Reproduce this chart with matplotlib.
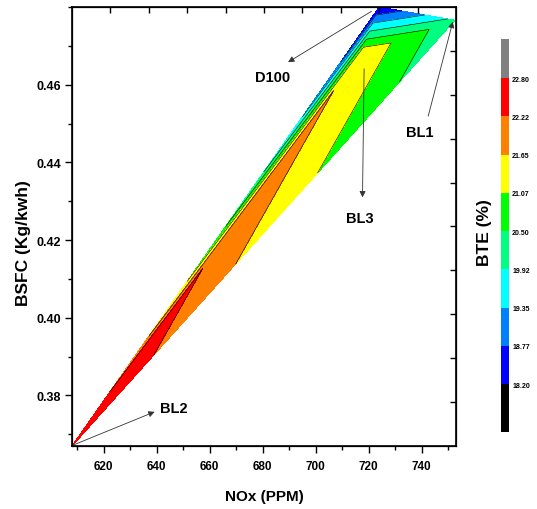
import matplotlib
matplotlib.use('Agg')
import matplotlib.pyplot as plt
import matplotlib.tri as mtri
from matplotlib.colors import ListedColormap, BoundaryNorm
from matplotlib.colorbar import ColorbarBase
from matplotlib.ticker import MultipleLocator

plt.rcParams['font.family'] = ['Liberation Sans', 'DejaVu Sans']
plt.rcParams['font.weight'] = 'bold'

# Blend data: NOx, BSFC and BTE for each fuel
blends = ['BL2', 'BL3', 'D100', 'BL1']
nox = [608.0, 717.1, 724.0, 752.6]
bsfc = [0.367, 0.468, 0.480, 0.4766]
bte = [22.80, 21.53, 18.20, 20.11]

# Contour levels and colours (low -> high, first/last are the under/over colours)
levels = [18.20, 18.775, 19.35, 19.925, 20.50, 21.075, 21.65, 22.225, 22.80]
level_labels = ['18.20', '18.77', '19.35', '19.92', '20.50',
                '21.07', '21.65', '22.22', '22.80']
band_colors = ['#000000', '#0000FF', '#0080FF', '#00FFFF', '#00FF80',
               '#00FF00', '#FFFF00', '#FF8000', '#FF0000', '#808080']

fig = plt.figure(figsize=(5.37, 5.10), dpi=100)
ax = fig.add_axes([72 / 537, 1 - 447 / 510, 384 / 537, 439 / 510])

# Filled contour on the triangulated points
tri = mtri.Triangulation(nox, bsfc)
ax.tricontourf(tri, bte, levels=levels, colors=band_colors[1:-1])
ax.tricontour(tri, bte, levels=levels[1:-1], colors='k', linewidths=0.4)

ax.set_xlim(608, 753)
ax.set_ylim(0.367, 0.48)
ax.set_xticks(range(620, 741, 20))
ax.set_yticks([0.38, 0.40, 0.42, 0.44, 0.46])
ax.xaxis.set_minor_locator(MultipleLocator(10))
ax.yaxis.set_minor_locator(MultipleLocator(0.01))
ax.tick_params(which='both', direction='out', width=1.0)
ax.tick_params(which='major', length=5)
ax.tick_params(which='minor', length=3)
ax.tick_params(axis='x', labelsize=8.5, pad=5)
ax.tick_params(axis='y', labelsize=9, pad=3)
for s in ax.spines.values():
    s.set_linewidth(1.2)

ax.set_xlabel('NOx (PPM)', fontsize=11, fontweight='bold')
ax.set_ylabel('BSFC (Kg/kwh)', fontsize=12.5, fontweight='bold')
ax.xaxis.set_label_coords(0.5, -0.098)
ax.yaxis.set_label_coords(-0.107, 0.465)

# Inward ticks on top and right frame
ax_top = ax.twiny()
ax_top.set_xlim(0, 10)
ax_top.set_xticks(range(1, 10))
ax_top.tick_params(direction='in', length=4, width=1.0, labeltop=False)
ax_right = ax.twinx()
ax_right.set_ylim(0, 10)
ax_right.set_yticks(range(1, 10))
ax_right.tick_params(direction='in', length=4, width=1.0, labelright=False)

# Point labels with arrows
arrow = dict(arrowstyle='-|>', lw=0.6, color='#333333', mutation_scale=9,
             shrinkA=0, shrinkB=0)
ax.annotate('', xy=(689.6, 0.4658), xytext=(721.1, 0.4789), arrowprops=arrow)
ax.text(683.8, 0.462, 'D100', fontsize=10.5, fontweight='bold', ha='center', va='center')
ax.annotate('', xy=(751.8, 0.4762), xytext=(742.5, 0.4519), arrowprops=arrow)
ax.text(739.4, 0.4477, 'BL1', fontsize=10.5, fontweight='bold', ha='center', va='center')
ax.annotate('', xy=(717.7, 0.4310), xytext=(718.3, 0.4641), arrowprops=arrow)
ax.text(716.7, 0.4257, 'BL3', fontsize=10.5, fontweight='bold', ha='center', va='center')
ax.annotate('', xy=(639.2, 0.3758), xytext=(608.3, 0.3672), arrowprops=arrow)
ax.text(646.5, 0.3768, 'BL2', fontsize=10.5, fontweight='bold', ha='center', va='center')

# Colour scale
cax = fig.add_axes([500.7 / 537, 1 - 433 / 510, 8.6 / 537, 393 / 510])
bounds = [17.48] + levels + [23.39]
cmap = ListedColormap(band_colors)
norm = BoundaryNorm(bounds, cmap.N)
cb = ColorbarBase(cax, cmap=cmap, norm=norm, boundaries=bounds,
                  spacing='proportional', ticks=levels)
cb.set_ticklabels(level_labels)
cb.outline.set_visible(False)
cax.minorticks_off()
cax.tick_params(which='both', length=0, labelsize=5, pad=2)
fig.text(485 / 537, 1 - 233 / 510, 'BTE (%)', rotation=90, ha='center',
         va='center', fontsize=12.5, fontweight='bold')

fig.savefig('out.png', dpi=100)
